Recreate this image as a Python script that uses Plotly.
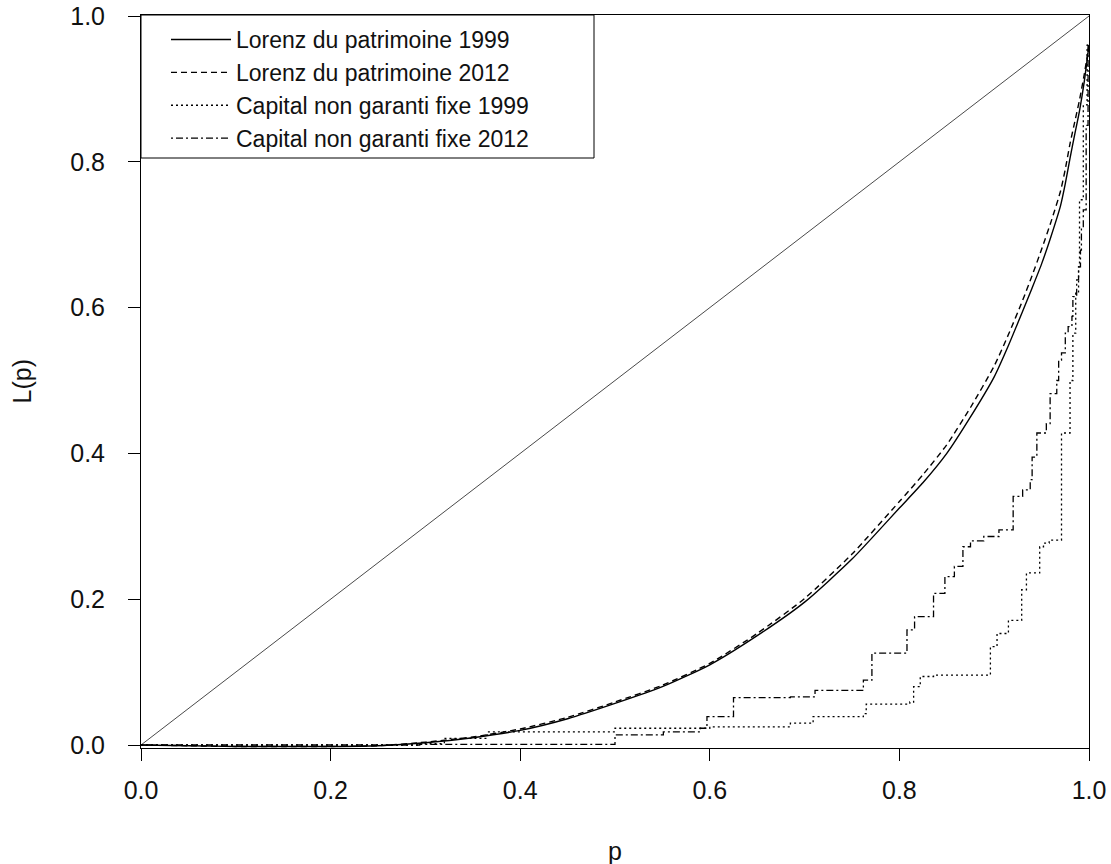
import plotly.graph_objects as go

# ---------------- data ----------------
diag_p = [0.0, 1.0]
diag_L = [0.0, 1.0]

p_lorenz = [0.0, 0.05, 0.10, 0.15, 0.20, 0.25, 0.30, 0.35, 0.40, 0.45, 0.50, 0.55,
            0.60, 0.65, 0.70, 0.75, 0.80, 0.825, 0.85, 0.875, 0.90, 0.915, 0.93, 0.94,
            0.95, 0.96, 0.97, 0.975, 0.98, 0.985, 0.99, 0.995, 1.0]
L_patrimoine_1999 = [0.0, -0.001, -0.002, -0.002, -0.002, -0.001, 0.003, 0.010, 0.020, 0.036,
                     0.057, 0.080, 0.110, 0.150, 0.196, 0.255, 0.325, 0.360, 0.400, 0.450,
                     0.505, 0.548, 0.595, 0.627, 0.660, 0.698, 0.740, 0.770, 0.805, 0.838,
                     0.870, 0.910, 0.960]
L_patrimoine_2012 = [0.0, -0.001, -0.002, -0.002, -0.002, -0.001, 0.004, 0.011, 0.022, 0.038,
                     0.059, 0.082, 0.112, 0.153, 0.201, 0.262, 0.334, 0.371, 0.412, 0.463,
                     0.520, 0.563, 0.610, 0.644, 0.680, 0.718, 0.760, 0.790, 0.825, 0.855,
                     0.885, 0.920, 0.960]

p_capital_1999 = [0.0, 0.294, 0.320, 0.365, 0.500, 0.600, 0.685, 0.709, 0.762, 0.765, 0.811,
                  0.815, 0.822, 0.836, 0.896, 0.903, 0.915, 0.929, 0.934, 0.948, 0.952, 0.958,
                  0.971, 0.980, 0.983, 0.986, 0.989, 0.990, 0.994, 0.998, 1.0]
L_capital_1999 = [0.0, 0.002, 0.009, 0.018, 0.023, 0.025, 0.030, 0.039, 0.043, 0.056, 0.059,
                  0.080, 0.094, 0.096, 0.135, 0.153, 0.171, 0.213, 0.236, 0.272, 0.277, 0.281,
                  0.428, 0.500, 0.565, 0.620, 0.656, 0.748, 0.878, 0.960, 0.960]

p_capital_2012 = [0.0, 0.294, 0.500, 0.551, 0.590, 0.597, 0.625, 0.685, 0.711, 0.762, 0.771,
                  0.808, 0.816, 0.836, 0.848, 0.858, 0.867, 0.875, 0.889, 0.905, 0.920, 0.930,
                  0.938, 0.940, 0.945, 0.955, 0.959, 0.966, 0.968, 0.971, 0.975, 0.978, 0.982,
                  0.983, 0.987, 0.989, 0.991, 0.992, 0.994, 0.997, 0.999, 1.0]
L_capital_2012 = [0.0, 0.001, 0.014, 0.018, 0.023, 0.039, 0.065, 0.066, 0.075, 0.089, 0.126,
                  0.158, 0.176, 0.208, 0.231, 0.245, 0.272, 0.280, 0.286, 0.295, 0.341, 0.350,
                  0.364, 0.395, 0.428, 0.441, 0.482, 0.500, 0.528, 0.538, 0.565, 0.574, 0.588,
                  0.615, 0.638, 0.656, 0.679, 0.711, 0.734, 0.850, 0.960, 0.960]

series_names = ["Lorenz du patrimoine 1999", "Lorenz du patrimoine 2012",
                "Capital non garanti fixe 1999", "Capital non garanti fixe 2012"]

tick_vals = [0.0, 0.2, 0.4, 0.6, 0.8, 1.0]
tick_text = ["0.0", "0.2", "0.4", "0.6", "0.8", "1.0"]

# ---------------- figure ----------------
fig = go.Figure()

fig.add_trace(go.Scatter(x=diag_p, y=diag_L, mode="lines", showlegend=False,
                         line=dict(color="#4a4a4a", width=1), hoverinfo="skip"))
fig.add_trace(go.Scatter(x=p_lorenz, y=L_patrimoine_1999, mode="lines", name=series_names[0],
                         line=dict(color="black", width=1.4, dash="solid", shape="spline",
                                   smoothing=0.6)))
fig.add_trace(go.Scatter(x=p_lorenz, y=L_patrimoine_2012, mode="lines", name=series_names[1],
                         line=dict(color="black", width=1.4, dash="6px,4px", shape="spline",
                                   smoothing=0.6)))
fig.add_trace(go.Scatter(x=p_capital_1999, y=L_capital_1999, mode="lines", name=series_names[2],
                         line=dict(color="black", width=1.3, dash="2px,3px", shape="hv")))
fig.add_trace(go.Scatter(x=p_capital_2012, y=L_capital_2012, mode="lines", name=series_names[3],
                         line=dict(color="black", width=1.3, dash="2px,3px,7px,3px", shape="hv")))

axis_common = dict(
    tickvals=tick_vals, ticktext=tick_text, ticks="outside", ticklen=12, tickwidth=1,
    tickcolor="black", showline=True, linecolor="black", linewidth=1, mirror=True,
    showgrid=False, zeroline=False, automargin=False,
    tickfont=dict(size=25, color="#111111"),
)

fig.update_layout(
    width=1111, height=864,
    margin=dict(l=141, r=22, t=15, b=116),
    plot_bgcolor="white", paper_bgcolor="white",
    font=dict(family="Liberation Sans, Arial, sans-serif", size=25, color="#111111"),
    xaxis=dict(range=[0, 1], ticklabelstandoff=8, **axis_common),
    yaxis=dict(range=[-0.0041, 1.0014], ticklabelstandoff=18, **axis_common),
    legend=dict(x=25 / 948, y=1.0 - 3 / 733, xanchor="left", yanchor="top",
                bgcolor="rgba(0,0,0,0)", borderwidth=0,
                font=dict(size=23, color="#111111"), itemwidth=60, tracegroupgap=0),
    shapes=[dict(type="rect", xref="paper", yref="paper",
                 x0=0, x1=(594 - 141) / 948, y0=(748 - 158) / 733, y1=1,
                 line=dict(color="black", width=1), fillcolor="rgba(0,0,0,0)", layer="above")],
    annotations=[
        dict(text="p", xref="paper", yref="paper", x=0.5, y=(748 - 851) / 733,
             xanchor="center", yanchor="middle", showarrow=False, font=dict(size=25)),
        dict(text="L(p)", xref="paper", yref="paper", x=(21 - 141) / 948, y=0.5,
             xanchor="center", yanchor="middle", textangle=-90, showarrow=False,
             font=dict(size=25)),
    ],
)

fig.write_html("out.html", config={"displayModeBar": False},
               post_script="document.body.style.margin='0px';document.body.style.overflow='hidden';")
